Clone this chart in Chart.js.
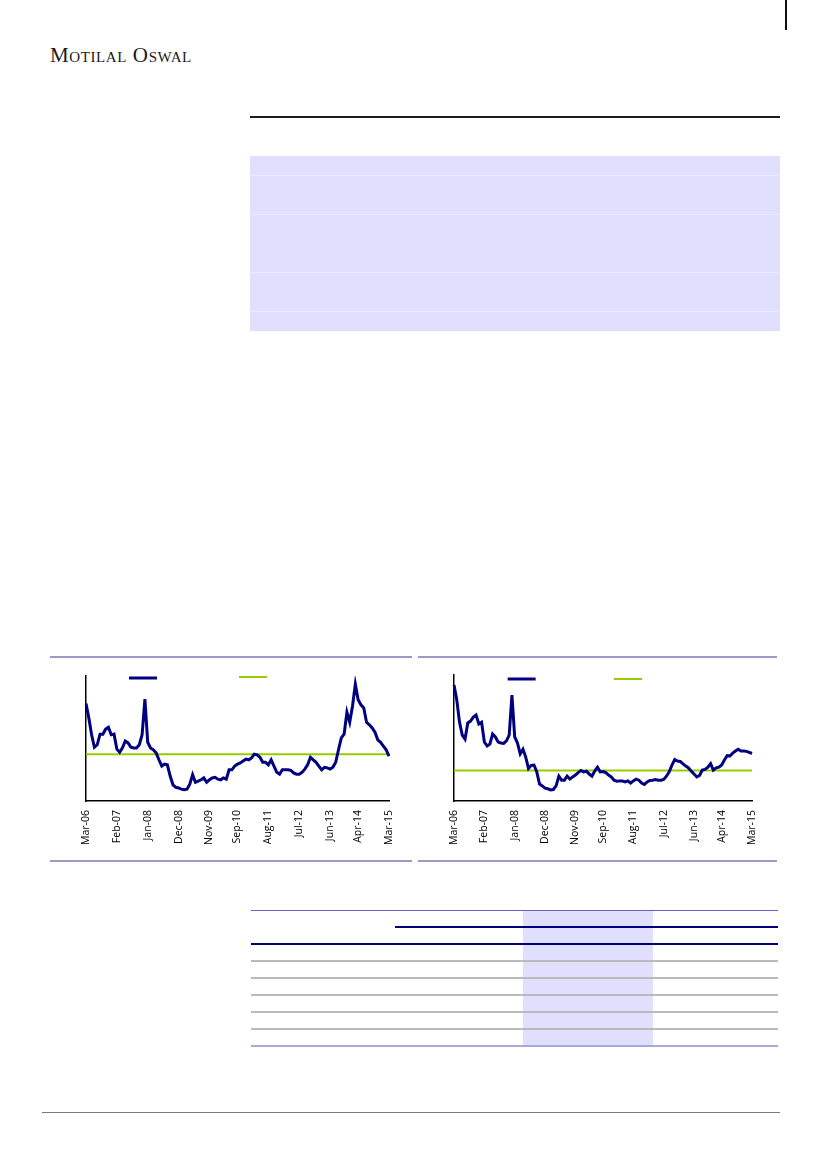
<!DOCTYPE html>
<html lang="en">
  <head>
    <meta charset="UTF-8" />
    <title>Valuation charts</title>
    <script src="https://cdn.jsdelivr.net/npm/chart.js@4"></script>
    <style>
      body {
        margin: 0;
        width: 827px;
        height: 1169px;
        position: relative;
        background: #ffffff;
        overflow: hidden;
      }

      .abs {
        position: absolute;
      }

      .brand {
        left: 50px;
        top: 43px;
        font-family: 'Liberation Serif', serif;
        font-variant: small-caps;
        font-size: 21px;
        line-height: 24px;
        color: #1a1a1a;
        letter-spacing: 0.6px;
      }

      .rule {
        left: 250px;
        top: 116px;
        width: 530px;
        height: 2px;
        background: #1c1c1c;
      }

      .band {
        left: 250px;
        top: 156px;
        width: 530px;
        height: 175px;
        background: #e0e0fe;
      }

      .band div {
        position: absolute;
        left: 0;
        width: 100%;
        height: 1px;
        background: #eaeaff;
      }

      .frame {
        height: 2px;
        background: #9a9ac6;
      }

      .tbl {
        left: 251px;
        top: 910px;
        width: 527px;
        border-collapse: collapse;
        table-layout: fixed;
        border-top: 1px solid #6d5fc4;
      }

      .tbl td {
        height: 15px;
        padding: 0;
      }

      .tbl tr.h1 td + td {
        border-bottom: 2px solid #00007a;
      }

      .tbl tr.h2 td {
        border-bottom: 2px solid #00007a;
      }

      .tbl tr.r td {
        border-bottom: 2px solid #bababa;
      }

      .tbl tr.last td {
        border-bottom: 2px solid #a9a9d6;
      }

      .tbl td.hl {
        background: #e0e0fe;
      }

      .footer {
        left: 42px;
        top: 1112px;
        width: 738px;
        height: 1px;
        background: #7a7a7a;
      }
    </style>
  </head>
  <body>
    <div class="abs" style="left: 785px; top: 0; width: 2px; height: 30px; background: #111"></div>
    <div class="abs brand">Motilal Oswal</div>
    <div class="abs rule"></div>

    <div class="abs band">
      <div style="top: 19px"></div>
      <div style="top: 58px"></div>
      <div style="top: 116px"></div>
      <div style="top: 155px"></div>
    </div>

    <div class="abs frame" style="left: 50px; top: 656px; width: 362px"></div>
    <div class="abs frame" style="left: 50px; top: 860px; width: 362px"></div>
    <div class="abs frame" style="left: 418px; top: 656px; width: 359px"></div>
    <div class="abs frame" style="left: 418px; top: 860px; width: 359px"></div>

    <canvas id="peChart" class="abs" style="left: 50px; top: 662px" width="362" height="195"></canvas>
    <canvas id="pbChart" class="abs" style="left: 418px; top: 662px" width="359" height="195"></canvas>

    <table class="abs tbl">
      <colgroup>
        <col style="width: 144px" />
        <col style="width: 43px" />
        <col style="width: 45px" />
        <col style="width: 40px" />
        <col style="width: 45px" />
        <col style="width: 85px" />
        <col style="width: 85px" />
        <col style="width: 40px" />
      </colgroup>
      <tbody id="tblBody"></tbody>
    </table>

    <div class="abs footer"></div>

    <script>
      const monNames = ['Jan', 'Feb', 'Mar', 'Apr', 'May', 'Jun', 'Jul', 'Aug', 'Sep', 'Oct', 'Nov', 'Dec']
      const tickLabels = ['Mar-06', 'Feb-07', 'Jan-08', 'Dec-08', 'Nov-09', 'Sep-10', 'Aug-11', 'Jul-12', 'Jun-13', 'Apr-14', 'Mar-15']

      // monthly, Mar-06 .. Mar-15
      const months = []
      for (let i = 0; i < 109; i++) {
        const m = (2 + i) % 12
        const y = 6 + Math.floor((2 + i) / 12)
        months.push(monNames[m] + '-' + String(y).padStart(2, '0'))
      }

      const peValues = [
        23.6, 21.3, 18.6, 16.6, 17.0, 18.7, 18.7, 19.5, 19.8, 18.6,
        18.7, 16.3, 15.8, 16.5, 17.6, 17.3, 16.6, 16.5, 16.5, 17.0,
        18.6, 24.3, 17.4, 16.5, 16.2, 15.7, 14.6, 13.6, 13.9, 13.8,
        12.0, 10.6, 10.2, 10.1, 9.9, 9.8, 9.9, 10.7, 12.2, 11.0,
        11.2, 11.4, 11.7, 11.0, 11.4, 11.7, 11.8, 11.5, 11.4, 11.7,
        11.5, 13.0, 13.0, 13.6, 13.9, 14.1, 14.4, 14.7, 14.6, 14.9,
        15.5, 15.4, 15.0, 14.2, 14.2, 13.8, 14.6, 13.6, 12.6, 12.3,
        13.0, 13.0, 13.0, 12.9, 12.5, 12.3, 12.3, 12.6, 13.1, 13.8,
        15.0, 14.6, 14.2, 13.6, 13.0, 13.4, 13.3, 13.1, 13.4, 14.2,
        16.2, 18.1, 18.7, 22.2, 20.6, 23.2, 26.7, 24.2, 23.4, 22.9,
        20.6, 20.2, 19.7, 19.0, 17.8, 17.4, 16.8, 16.2, 15.2
      ]
      const peAvg = 15.5

      const pbValues = [
        4.22, 3.81, 3.19, 2.83, 2.72, 3.17, 3.22, 3.33, 3.39, 3.14,
        3.19, 2.64, 2.53, 2.58, 2.86, 2.78, 2.64, 2.61, 2.60, 2.67,
        2.83, 3.94, 2.78, 2.61, 2.31, 2.44, 2.22, 1.90, 1.99, 2.00,
        1.81, 1.47, 1.42, 1.36, 1.34, 1.31, 1.32, 1.42, 1.69, 1.58,
        1.58, 1.69, 1.61, 1.67, 1.72, 1.79, 1.85, 1.81, 1.83, 1.75,
        1.69, 1.83, 1.94, 1.81, 1.82, 1.79, 1.72, 1.67, 1.58, 1.55,
        1.56, 1.56, 1.53, 1.56, 1.50, 1.56, 1.61, 1.58, 1.50, 1.46,
        1.53, 1.57, 1.58, 1.60, 1.58, 1.58, 1.60, 1.69, 1.81, 2.00,
        2.15, 2.11, 2.10, 2.03, 1.97, 1.92, 1.83, 1.75, 1.67, 1.71,
        1.86, 1.88, 1.94, 2.04, 1.86, 1.92, 1.94, 2.00, 2.14, 2.26,
        2.25, 2.33, 2.39, 2.44, 2.39, 2.39, 2.38, 2.35, 2.32
      ]
      const pbAvg = 1.85

      // legend keys only (the report shows no legend text)
      const swatches = {
        id: 'swatches',
        afterDraw(chart, args, opts) {
          const { ctx, chartArea } = chart
          chart.data.datasets.forEach((ds, i) => {
            const x = chartArea.left + opts.at[i] * chartArea.width
            const y = chartArea.top + opts.dy[i]
            ctx.save()
            ctx.strokeStyle = ds.borderColor
            ctx.lineWidth = ds.borderWidth
            ctx.beginPath()
            ctx.moveTo(x, y)
            ctx.lineTo(x + 28, y)
            ctx.stroke()
            ctx.restore()
          })
        },
      }

      function makeChart(id, values, avg, yMin, yMax, pad, legend) {
        const ctx = document.getElementById(id).getContext('2d')
        return new Chart(ctx, {
          type: 'line',
          data: {
            labels: months,
            datasets: [
              {
                data: values,
                borderColor: '#000080',
                borderWidth: 3,
                pointRadius: 0,
                tension: 0,
              },
              {
                data: months.map(() => avg),
                borderColor: '#99cc00',
                borderWidth: 2,
                pointRadius: 0,
              },
            ],
          },
          options: {
            responsive: false,
            animation: false,
            layout: { padding: pad },
            plugins: {
              legend: { display: false },
              tooltip: { enabled: false },
              swatches: legend,
            },
            scales: {
              x: {
                grid: { display: false, drawTicks: false },
                border: { color: '#000000', width: 1.5 },
                ticks: {
                  autoSkip: false,
                  minRotation: 90,
                  maxRotation: 90,
                  padding: 9,
                  color: '#000000',
                  font: { family: 'Open Sans', size: 10.5 },
                  callback: (v, i) => (tickLabels.includes(months[i]) ? months[i] : null),
                },
              },
              y: {
                min: yMin,
                max: yMax,
                grid: { display: false, drawTicks: false },
                border: { color: '#000000', width: 1.5 },
                ticks: { display: false },
              },
            },
          },
          plugins: [swatches],
        })
      }

      makeChart('peChart', peValues, peAvg, 8, 28,
        { left: 36, top: 14, right: 23, bottom: 3 },
        { at: [0.142, 0.505], dy: [2, 1] })

      makeChart('pbChart', pbValues, pbAvg, 1, 4.5,
        { left: 36, top: 13, right: 25, bottom: 3 },
        { at: [0.18, 0.537], dy: [4, 4] })

      // empty table grid below the charts
      const rowClasses = ['h1', 'h2', 'r', 'r', 'r', 'r', 'r', 'last']
      const body = document.getElementById('tblBody')
      rowClasses.forEach(cls => {
        const tr = document.createElement('tr')
        tr.className = cls
        for (let c = 0; c < 8; c++) {
          const td = document.createElement('td')
          if (c === 4 || c === 5) td.className = 'hl'
          tr.appendChild(td)
        }
        body.appendChild(tr)
      })
    </script>
  </body>
</html>
